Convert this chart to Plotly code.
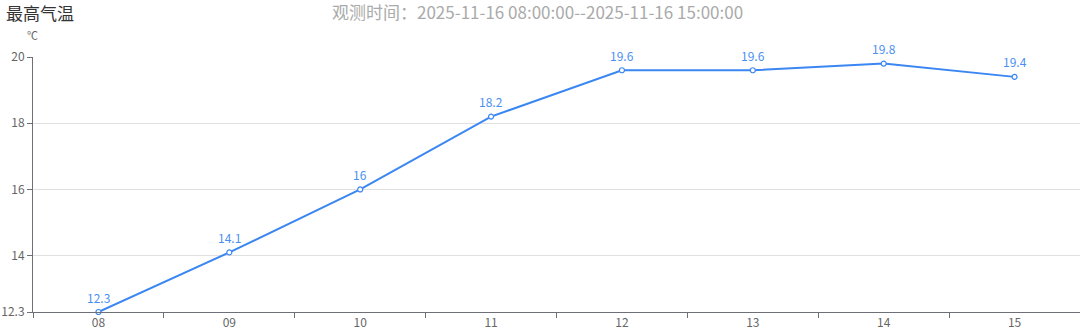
import plotly.graph_objects as go

hours = ["08", "09", "10", "11", "12", "13", "14", "15"]
temps = [12.3, 14.1, 16, 18.2, 19.6, 19.6, 19.8, 19.4]
y_ticks = [12.3, 14, 16, 18, 20]
y_tick_text = ["12.3", "14", "16", "18", "20"]
title_text = "最高气温"
subtitle_text = "观测时间：2025-11-16 08:00:00--2025-11-16 15:00:00"
unit_text = "℃"

FONT = "Microsoft YaHei, Noto Sans CJK SC, sans-serif"
LINE = "#3a86f2"

W, H = 1080, 335
L, R, T, B = 33, 0, 57, 23
pw, ph = W - L - R, H - T - B

def px_x(x):
    return (x - L) / pw

def px_y(y):
    return (H - B - y) / ph

fig = go.Figure()
fig.add_trace(go.Scatter(
    x=hours, y=temps,
    mode="lines+markers",
    line=dict(color=LINE, width=2),
    marker=dict(symbol="circle", size=5, color="white", line=dict(color=LINE, width=1.2)),
    cliponaxis=False,
    hoverinfo="skip",
))

anns = []
for i, v in enumerate(temps):
    anns.append(dict(x=i, y=v, xref="x", yref="y", text=str(v), showarrow=False,
                     xanchor="center", yanchor="middle", yshift=15,
                     font=dict(family=FONT, size=12, color="#4a8ff2")))

anns += [
    dict(text=title_text, x=px_x(4), y=px_y(13), xref="paper", yref="paper", showarrow=False,
         xanchor="left", yanchor="middle",
         font=dict(family=FONT, size=17, color="#333")),
    dict(text=subtitle_text, x=px_x(537), y=px_y(12), xref="paper", yref="paper", showarrow=False,
         xanchor="center", yanchor="middle",
         font=dict(family=FONT, size=17, color="#aaa")),
    dict(text=unit_text, x=px_x(32), y=px_y(35), xref="paper", yref="paper", showarrow=False,
         xanchor="center", yanchor="middle",
         font=dict(family=FONT, size=11, color="#666")),
]

fig.update_layout(
    width=W, height=H,
    margin=dict(l=L, r=R, t=T, b=B),
    plot_bgcolor="white", paper_bgcolor="white",
    showlegend=False,
    font=dict(family=FONT, size=12, color="#666"),
    xaxis=dict(
        type="category", range=[-0.5, 7.5],
        tickson="boundaries", ticks="outside", ticklen=5, tickcolor="#6e7079",
        showline=True, linecolor="#6e7079", linewidth=1,
        showgrid=False, zeroline=False,
        tickfont=dict(family=FONT, size=12, color="#666"),
        fixedrange=True,
    ),
    yaxis=dict(
        range=[12.3, 20], tickvals=y_ticks, ticktext=y_tick_text,
        ticks="outside", ticklen=5, tickcolor="#6e7079",
        showline=True, linecolor="#6e7079", linewidth=1,
        showgrid=True, gridcolor="#e0e0e0", gridwidth=1,
        zeroline=False,
        tickfont=dict(family=FONT, size=12, color="#666"),
        fixedrange=True,
    ),
    annotations=anns,
)

fig.write_html("out.html")
